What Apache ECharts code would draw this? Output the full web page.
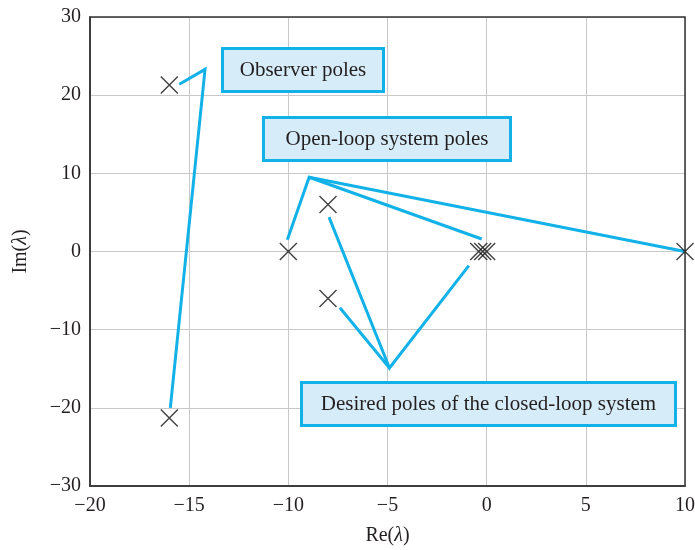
<!DOCTYPE html>
<html>
<head>
<meta charset="utf-8">
<title>Pole locations</title>
<script src="https://cdn.jsdelivr.net/npm/echarts@6/dist/echarts.min.js"></script>
<style>
  html, body { margin: 0; padding: 0; background: #fff; }
  #main { width: 695px; height: 550px; }
</style>
</head>
<body>
<div id="main"></div>
<script>
// pole positions (Re, Im)
const poleRe = [-16, -16, -10, -8, -8, -0.4, -0.2, 0, 10]
const poleIm = [21.3, -21.3, 0, 6, -6, 0, 0, 0, 0]

// axis ticks
const xTicks = [-20, -15, -10, -5, 0, 5, 10]
const yTicks = [-30, -20, -10, 0, 10, 20, 30]

// leader lines, in data coordinates
const observerLeader = [[-15.5, 21.4], [-14.2, 23.3], [-15.95, -20]]
const openLoopLeaders = [
    [[-10.05, 1.5], [-8.95, 9.5], [-0.25, 1.6]],
    [[-8.95, 9.5], [10, 0]]
]
const desiredLeaders = [
    [[-7.95, 4.4], [-4.9, -14.9], [-0.9, -1.8]],
    [[-7.4, -7.2], [-4.9, -14.9]]
]

const labelTexts = ['Observer poles', 'Open-loop system poles', 'Desired poles of the closed-loop system']

const serif = "'Liberation Serif', 'Times New Roman', serif"
const ink = '#231f20'
const cyan = '#12b2e8'
const paleBlue = '#d6ecf8'

const minus = v => String(v).replace('-', '\u2212')

function box(x, y, w, h, text) {
    return {
        type: 'group',
        left: x,
        top: y,
        z: 20,
        children: [{
            type: 'rect',
            z: 20,
            shape: { x: 0, y: 0, width: w, height: h },
            style: { fill: paleBlue, stroke: cyan, lineWidth: 3 }
        }, {
            type: 'text',
            z: 21,
            x: w / 2,
            y: h / 2,
            style: {
                text: text,
                fill: ink,
                font: '21px ' + serif,
                align: 'center',
                verticalAlign: 'middle'
            }
        }]
    }
}

const myChart = echarts.init(document.getElementById('main'))

const option = {
    animation: false,
    backgroundColor: '#fff',
    grid: { left: 90, right: 10, top: 17, bottom: 64, outerBoundsMode: 'none', containLabel: false },
    xAxis: {
        type: 'value',
        min: xTicks[0],
        max: xTicks[xTicks.length - 1],
        interval: 5,
        name: '{r|Re(}{l|λ}{r|)}',
        nameLocation: 'middle',
        nameGap: 40,
        nameTextStyle: {
            rich: {
                r: { fontFamily: serif, fontSize: 20, color: ink },
                l: { fontFamily: serif, fontSize: 20, color: ink, fontStyle: 'italic' }
            }
        },
        axisLine: { show: true, onZero: false, lineStyle: { color: '#333', width: 1.5 } },
        axisTick: { show: false },
        axisLabel: { fontFamily: serif, fontSize: 20, color: ink, margin: 10, formatter: minus },
        splitLine: { show: true, lineStyle: { color: '#c8c8c8', width: 1 } }
    },
    yAxis: {
        type: 'value',
        min: yTicks[0],
        max: yTicks[yTicks.length - 1],
        interval: 10,
        name: '{r|Im(}{l|λ}{r|)}',
        nameLocation: 'middle',
        nameGap: 59,
        nameRotate: 90,
        nameTextStyle: {
            rich: {
                r: { fontFamily: serif, fontSize: 20, color: ink },
                l: { fontFamily: serif, fontSize: 20, color: ink, fontStyle: 'italic' }
            }
        },
        axisLine: { show: true, onZero: false, lineStyle: { color: '#333', width: 1.5 } },
        axisTick: { show: false },
        axisLabel: { fontFamily: serif, fontSize: 20, color: ink, margin: 9, formatter: minus },
        splitLine: { show: true, lineStyle: { color: '#c8c8c8', width: 1 } }
    },
    graphic: [
        // full frame round the plot
        {
            type: 'rect',
            z: 5,
            shape: { x: 90, y: 17, width: 595, height: 469 },
            style: { fill: 'none', stroke: '#333', lineWidth: 1.5 },
            silent: true
        },
        box(221, 47, 161, 43, labelTexts[0]),
        box(262, 116, 247, 43, labelTexts[1]),
        box(300, 381, 374, 43, labelTexts[2])
    ],
    series: [{
        type: 'lines',
        coordinateSystem: 'cartesian2d',
        polyline: true,
        silent: true,
        z: 3,
        lineStyle: { color: cyan, width: 3, opacity: 1 },
        data: [observerLeader].concat(openLoopLeaders, desiredLeaders).map(c => ({ coords: c }))
    }, {
        type: 'scatter',
        z: 4,
        symbol: 'path://M0,0L10,10M10,0L0,10',
        symbolSize: 17,
        itemStyle: { color: 'none', borderColor: '#111', borderWidth: 1.4 },
        data: poleRe.map((re, i) => [re, poleIm[i]])
    }]
}

myChart.setOption(option)
</script>
</body>
</html>
